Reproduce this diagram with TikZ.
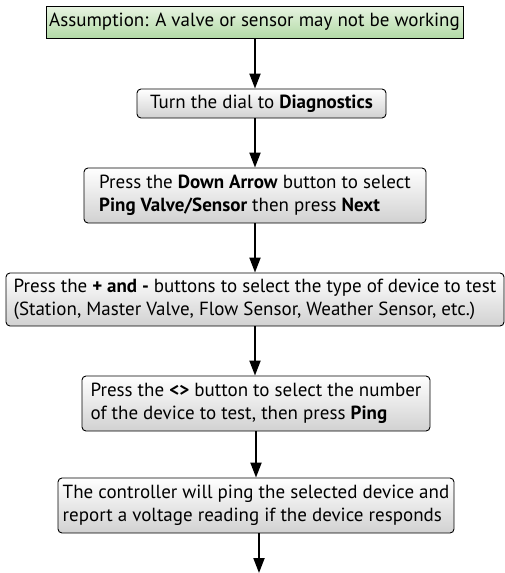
\documentclass[tikz,border=0pt]{standalone}
\usepackage{fontspec}
\setmainfont{PT Sans}
\usetikzlibrary{arrows.meta}
\definecolor{gtop}{RGB}{232,244,226}
\definecolor{gbot}{RGB}{178,218,166}
\tikzset{
  x=1pt, y=1pt,
  stepbox/.style={draw=black, line width=0.9pt, rounded corners=4pt, top color=white, bottom color=black!18, align=left, inner sep=2pt, font=\fontsize{19}{22.5}\selectfont},
  startbox/.style={stepbox, rounded corners=0pt, top color=gtop, bottom color=gbot},
  flow/.style={line width=2pt, -{Triangle[length=15pt,width=11pt]}}
}
\begin{document}
\begin{tikzpicture}
\useasboundingbox (0,0) rectangle (505,-573);
\coordinate (ax) at (255,0);
\node[startbox, minimum width=417pt, minimum height=32pt] (b1) at (254.5,-22) {Assumption: A valve or sensor may not be working};
\node[stepbox, minimum width=249pt, minimum height=29pt] (b2) at (261.5,-103.5) {Turn the dial to \textbf{Diagnostics}};
\node[stepbox, minimum width=342pt, minimum height=55pt] (b3) at (255,-195.5) {Press the \textbf{Down Arrow} button to select\\\textbf{Ping Valve/Sensor} then press \textbf{Next}};
\node[stepbox, minimum width=498pt, minimum height=53pt] (b4) at (255,-299.5) {Press the \textbf{+ and -} buttons to select the type of device to test\\(Station, Master Valve, Flow Sensor, Weather Sensor, etc.)};
\node[stepbox, minimum width=348pt, minimum height=55pt] (b5) at (256,-403.5) {Press the \textbf{<>} button to select the number\\of the device to test, then press \textbf{Ping}};
\node[stepbox, minimum width=396pt, minimum height=55pt] (b6) at (256,-505.5) {The controller will ping the selected device and\\report a voltage reading if the device responds};
\coordinate (end) at (259,-573);
\draw[flow] (b1.south -| ax) -- (b2.north -| ax);
\draw[flow] (b2.south -| ax) -- (b3.north -| ax);
\draw[flow] (b3.south -| ax) -- (b4.north -| ax);
\draw[flow] (b4.south -| ax) -- (b5.north -| ax);
\draw[flow] (b5.south -| b5) -- (b6.north -| b5);
\draw[flow] (b6.south -| end) -- (end);
\end{tikzpicture}
\end{document}
